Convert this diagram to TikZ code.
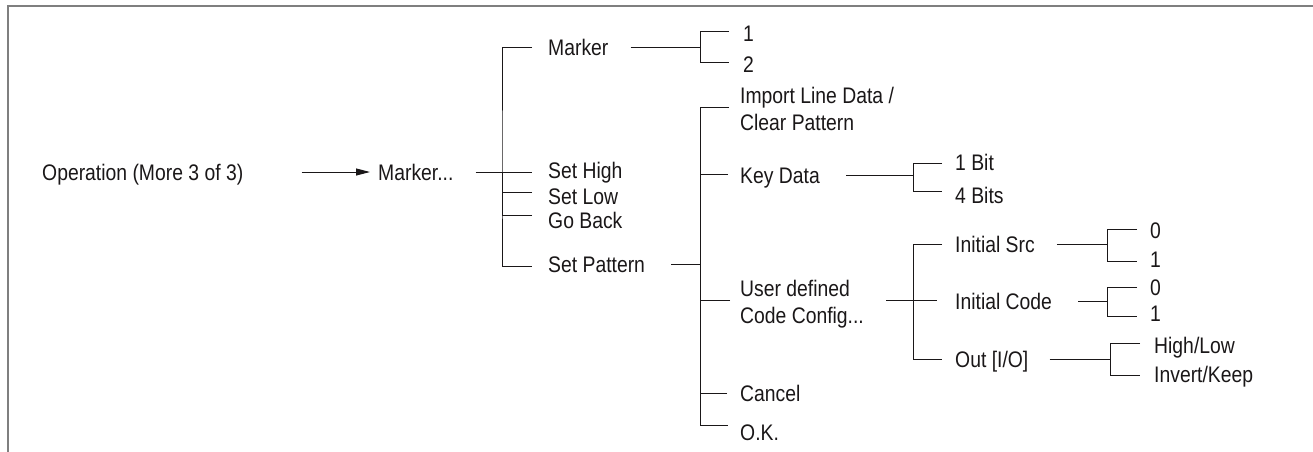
\documentclass[tikz,border=0pt]{standalone}
\usepackage{fontspec}
\setmainfont{Liberation Sans}[FakeStretch=0.86]
\usetikzlibrary{arrows.meta}
\definecolor{ink}{HTML}{1A1718}
\definecolor{framegray}{HTML}{7F7F7F}
\begin{document}
\begin{tikzpicture}[x=1pt,y=-1pt,
  lbl/.style={anchor=west,inner sep=0pt,text height=16pt,text depth=0pt,text=ink,font=\fontsize{22.5}{27}\selectfont},
  lbltwo/.style={anchor=west,inner sep=0pt,align=left,text=ink,font=\fontsize{22.5}{27}\selectfont},
  conn/.style={draw=ink,line width=1pt},
  frameline/.style={draw=framegray,line width=1.5pt}]
\useasboundingbox (0,0) rectangle (1313,451);
\draw[frameline] (8,452) -- (8,6) -- (1314,6);

% labels
\node[lbl] (op) at (42,172) {Operation (More 3 of 3)};
\node[lbl] (mk) at (378,172) {Marker...};
\node[lbl] (m1) at (548,47) {Marker};
\node[lbl] (sh) at (548,170) {Set High};
\node[lbl] (sl) at (548,196) {Set Low};
\node[lbl] (gb) at (548,220) {Go Back};
\node[lbl] (sp) at (548,264) {Set Pattern};
\node[lbl] (n1) at (743,33) {1};
\node[lbl] (n2) at (743,64) {2};
\node[lbltwo] (imp) at (740,108.5) {Import Line Data /\\Clear Pattern};
\node[lbl] (kd) at (740,175) {Key Data};
\node[lbltwo] (ud) at (740,304.5) {User defined\\Code Config...};
\node[lbl] (cn) at (740,393) {Cancel};
\node[lbl] (ok) at (740,432) {O.K.};
\node[lbl] (b1) at (955,162) {1 Bit};
\node[lbl] (b4) at (955,195) {4 Bits};
\node[lbl] (is) at (955,244.5) {Initial Src};
\node[lbl] (ic) at (955,301) {Initial Code};
\node[lbl] (io) at (955,359) {Out [I/O]};
\node[lbl] (s0) at (1150,230) {0};
\node[lbl] (s1) at (1150,259) {1};
\node[lbl] (c0) at (1150,287) {0};
\node[lbl] (c1) at (1150,313) {1};
\node[lbl] (hl) at (1154,345) {High/Low};
\node[lbl] (ik) at (1154,374) {Invert/Keep};

% junctions
\coordinate (jA) at (502,172);
\coordinate (jB) at (700,47);
\coordinate (jC) at (700,264);
\coordinate (jD) at (913,175);
\coordinate (jE) at (913,300);
\coordinate (jF) at (1107,244.5);
\coordinate (jG) at (1107,301);
\coordinate (jH) at (1110,359);

% arrow
\draw[conn,-{Triangle[length=14pt,width=7pt]}] ([xshift=58pt]op.east) -- ([xshift=-8pt]mk.west);

% bracket A
\draw[conn] ([xshift=22pt]mk.east) -- (jA);
\draw[conn] ([xshift=-16pt]m1.west) -| (jA) |- ([xshift=-16pt,yshift=-2pt]sp.west);
\draw[conn] (jA) -- ([xshift=-16pt,yshift=-2pt]sh.west);
\draw[conn] ([xshift=-16pt,yshift=4pt]sl.west) -| (jA);
\draw[conn] ([xshift=-16pt,yshift=5pt]gb.west) -| (jA);

% bracket B
\draw[conn] ([xshift=22pt]m1.east) -- (jB);
\draw[conn] ([xshift=-14pt,yshift=2pt]n1.west) -| (jB) |- ([xshift=-14pt,yshift=2pt]n2.west);

% bracket C
\draw[conn] ([xshift=26pt]sp.east) -- (jC);
\draw[conn] ([xshift=-11pt,yshift=1.5pt]imp.west) -| (jC) |- ([xshift=-12pt,yshift=7pt]ok.west);
\draw[conn] ([xshift=-12pt,yshift=1pt]kd.west) -| (jC);
\draw[conn] ([xshift=-10pt,yshift=4.5pt]ud.west) -| (jC);
\draw[conn] ([xshift=-13pt]cn.west) -| (jC);

% bracket D
\draw[conn] ([xshift=26pt]kd.east) -- (jD);
\draw[conn] ([xshift=-13pt,yshift=-1pt]b1.west) -| (jD) |- ([xshift=-13pt,yshift=4pt]b4.west);

% bracket E
\draw[conn] ([xshift=22pt,yshift=4.5pt]ud.east) -- (jE);
\draw[conn] ([xshift=-13pt]is.west) -| (jE) |- ([xshift=-13pt]io.west);
\draw[conn] (jE) -- ([xshift=-18pt,yshift=1pt]ic.west);

% bracket F
\draw[conn] ([xshift=22pt]is.east) -- (jF);
\draw[conn] ([xshift=-13pt,yshift=1pt]s0.west) -| (jF) |- ([xshift=-13pt,yshift=-2pt]s1.west);

% bracket G
\draw[conn] ([xshift=26pt]ic.east) -- (jG);
\draw[conn] ([xshift=-13pt]c0.west) -| (jG) |- ([xshift=-13pt,yshift=-3pt]c1.west);

% bracket H
\draw[conn] ([xshift=21pt]io.east) -- (jH);
\draw[conn] ([xshift=-14pt,yshift=2pt]hl.west) -| (jH) |- ([xshift=-14pt,yshift=-1pt]ik.west);
\end{tikzpicture}
\end{document}
